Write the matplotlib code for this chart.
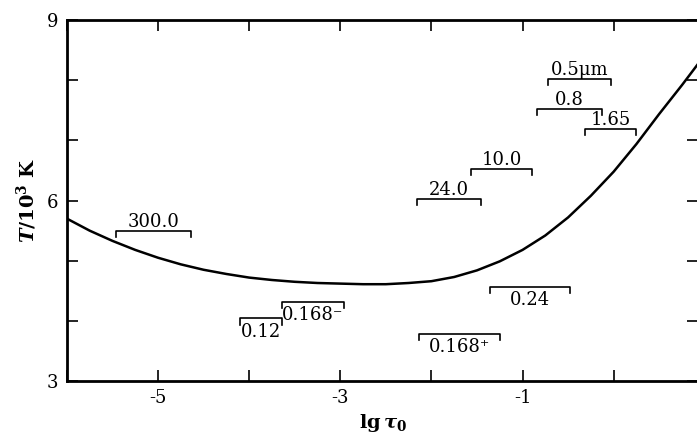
import matplotlib
matplotlib.use('Agg')
import matplotlib.pyplot as plt

plt.rcParams['font.family'] = 'DejaVu Serif'
plt.rcParams['mathtext.fontset'] = 'dejavuserif'

# temperature curve T (10^3 K) vs lg tau0
lg_tau = [-6.0, -5.75, -5.5, -5.25, -5.0, -4.75, -4.5, -4.25, -4.0, -3.75, -3.5, -3.25,
          -3.0, -2.75, -2.5, -2.25, -2.0, -1.75, -1.5, -1.25, -1.0, -0.75, -0.5,
          -0.25, 0.0, 0.25, 0.5, 0.75, 0.93]
temp = [5.70, 5.50, 5.33, 5.18, 5.05, 4.94, 4.85, 4.78, 4.72, 4.68, 4.65, 4.63,
        4.62, 4.61, 4.61, 4.63, 4.66, 4.73, 4.84, 4.99, 5.18, 5.42, 5.72,
        6.08, 6.48, 6.94, 7.44, 7.92, 8.28]

# wavelength brackets: label, start, end, level, label above/below
br_labels = ['300.0', '24.0', '10.0', '0.8', '0.5μm', '1.65', '0.12', '0.168⁻', '0.168⁺', '0.24']
br_start = [-5.46, -2.16, -1.56, -0.84, -0.72, -0.31, -4.10, -3.64, -2.14, -1.36]
br_end = [-4.64, -1.46, -0.90, -0.13, -0.03, 0.24, -3.64, -2.96, -1.25, -0.48]
br_level = [5.50, 6.02, 6.52, 7.53, 8.02, 7.19, 4.04, 4.32, 3.78, 4.56]
br_above = [True, True, True, True, True, True, False, False, False, False]

fig = plt.figure(figsize=(6.97, 4.37), dpi=100)
ax = fig.add_axes([0.096, 0.128, 0.906, 0.826])

ax.plot(lg_tau, temp, color='black', lw=1.8, solid_joinstyle='round')

h = 0.1
for lab, x0, x1, y, up in zip(br_labels, br_start, br_end, br_level, br_above):
    ax.plot([x0, x0, x1, x1], [y - h, y, y, y - h], color='black', lw=1.2)
    xm = (x0 + x1) / 2
    if up:
        ax.text(xm, y + 0.0, lab, ha='center', va='bottom', fontsize=13)
    else:
        ax.text(xm, y - 0.07, lab, ha='center', va='top', fontsize=13)

ax.set_xlim(-6, 0.93)
ax.set_ylim(3, 9)
ax.set_xticks(range(-6, 1))
ax.set_xticklabels(['', '-5', '', '-3', '', '-1', ''])
ax.set_yticks(range(3, 10))
ax.set_yticklabels(['3', '', '', '6', '', '', '9'])
ax.tick_params(direction='in', length=8, width=1.2, labelsize=13,
               top=True, right=True, pad=6)
for s in ax.spines.values():
    s.set_linewidth(2)

ax.set_xlabel(r'$\mathbf{lg}\,\mathbfit{\tau}_\mathbf{0}$', fontsize=14, labelpad=3)
ax.set_ylabel(r'$\mathbfit{T}\mathbf{/10^3\ K}$', fontsize=14, labelpad=6)

fig.savefig('out.png', dpi=100)
